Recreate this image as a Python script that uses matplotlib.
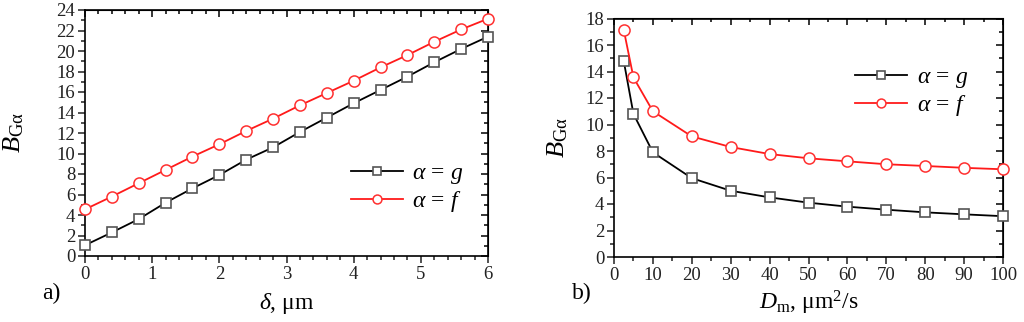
"""Two-panel B_G-alpha plot: dependence on delta (a) and on D_m (b)."""

import matplotlib

matplotlib.use("Agg")
import matplotlib.pyplot as plt
from matplotlib.ticker import MultipleLocator

plt.rcParams["font.family"] = "Liberation Serif"
plt.rcParams["mathtext.fontset"] = "custom"
plt.rcParams["mathtext.rm"] = "Liberation Serif"
plt.rcParams["mathtext.it"] = "Liberation Serif:italic"

# panel a: B vs delta
delta_um = [0.0, 0.4, 0.8, 1.2, 1.6, 2.0, 2.4, 2.8, 3.2, 3.6, 4.0, 4.4, 4.8, 5.2, 5.6, 6.0]
b_g_delta = [1.05, 2.3, 3.6, 5.2, 6.6, 7.9, 9.4, 10.6, 12.1, 13.5, 14.9, 16.2, 17.5, 18.9, 20.2, 21.4]
b_f_delta = [4.55, 5.8, 7.1, 8.4, 9.7, 10.9, 12.2, 13.4, 14.7, 15.9, 17.1, 18.4, 19.6, 20.9, 22.1, 23.15]

# panel b: B vs D_m
d_m = [2.5, 5, 10, 20, 30, 40, 50, 60, 70, 80, 90, 100]
b_g_dm = [14.8, 10.8, 7.9, 5.95, 5.0, 4.5, 4.1, 3.8, 3.57, 3.37, 3.22, 3.08]
b_f_dm = [17.15, 13.55, 11.0, 9.1, 8.3, 7.77, 7.45, 7.22, 7.0, 6.87, 6.73, 6.62]

LABEL_G = r"$\alpha\,=\,g$"
LABEL_F = r"$\alpha\,=\,f$"


def style_axis(ax, xmaj, xmin, ymaj, ymin):
    for side in ax.spines:
        ax.spines[side].set_linewidth(1.2)
    ax.xaxis.set_major_locator(MultipleLocator(xmaj))
    ax.xaxis.set_minor_locator(MultipleLocator(xmin))
    ax.yaxis.set_major_locator(MultipleLocator(ymaj))
    ax.yaxis.set_minor_locator(MultipleLocator(ymin))
    ax.tick_params(which="both", direction="out", top=False, right=False,
                   labelsize=13.5, width=1.1, colors="#222222", pad=2)
    ax.tick_params(which="major", length=5)
    ax.tick_params(which="minor", length=3)
    # inward ticks on the top and right spines
    top = ax.secondary_xaxis("top")
    right = ax.secondary_yaxis("right")
    top.xaxis.set_major_locator(MultipleLocator(xmaj))
    top.xaxis.set_minor_locator(MultipleLocator(xmin))
    right.yaxis.set_major_locator(MultipleLocator(ymaj))
    right.yaxis.set_minor_locator(MultipleLocator(ymin))
    for sec in (top, right):
        sec.tick_params(which="both", direction="in", labelleft=False, labelright=False,
                        labeltop=False, labelbottom=False, width=1.1)
        sec.tick_params(which="major", length=5)
        sec.tick_params(which="minor", length=3)


def draw_series(ax, x, g, f):
    ax.plot(x, g, color="black", lw=1.3, marker="s", ms=7, mfc="white",
            mec="#555555", mew=1.2, label=LABEL_G, clip_on=False, zorder=3)
    ax.plot(x, f, color="#ff1a1a", lw=1.3, marker="o", ms=8, mfc="white",
            mec="#ff3030", mew=1.1, label=LABEL_F, clip_on=False, zorder=3)


def add_legend(ax, x, y):
    ax.legend(loc="center left", bbox_to_anchor=(x, y), frameon=False,
              fontsize=17, handlelength=2.2, handletextpad=0.4, labelspacing=0.12,
              borderaxespad=0, borderpad=0, markerscale=0.8)


fig = plt.figure(figsize=(10.24, 3.22), dpi=100)
ax_a = fig.add_axes([85 / 1024, 1 - 256 / 322, 403 / 1024, 246 / 322])
ax_b = fig.add_axes([614 / 1024, 1 - 257 / 322, 389 / 1024, 238.5 / 322])

# panel a
draw_series(ax_a, delta_um, b_g_delta, b_f_delta)
ax_a.set_xlim(0, 6)
ax_a.set_ylim(0, 24)
style_axis(ax_a, 1, 0.2, 2, 1)
ax_a.set_xlabel(r"$\delta$, μm", fontsize=17, labelpad=6)
ax_a.set_ylabel(r"$B_{\mathrm{G\alpha}}$", fontsize=19)
ax_a.yaxis.set_label_coords(-0.146, 0.5)
add_legend(ax_a, 0.66, 0.275)
fig.text(42 / 1024, 1 - 293 / 322, "a)", fontsize=17, va="center")

# panel b
draw_series(ax_b, d_m, b_g_dm, b_f_dm)
ax_b.set_xlim(0, 100)
ax_b.set_ylim(0, 18)
style_axis(ax_b, 10, 5, 2, 1)
ax_b.set_xlabel(r"$D_{\mathrm{m}}$, μm$^{2}$/s", fontsize=17, labelpad=4)
ax_b.set_ylabel(r"$B_{\mathrm{G\alpha}}$", fontsize=19)
ax_b.yaxis.set_label_coords(-0.113, 0.5)
add_legend(ax_b, 0.62, 0.69)
fig.text(572 / 1024, 1 - 293 / 322, "b)", fontsize=17, va="center")

fig.savefig("out.png", dpi=100)
